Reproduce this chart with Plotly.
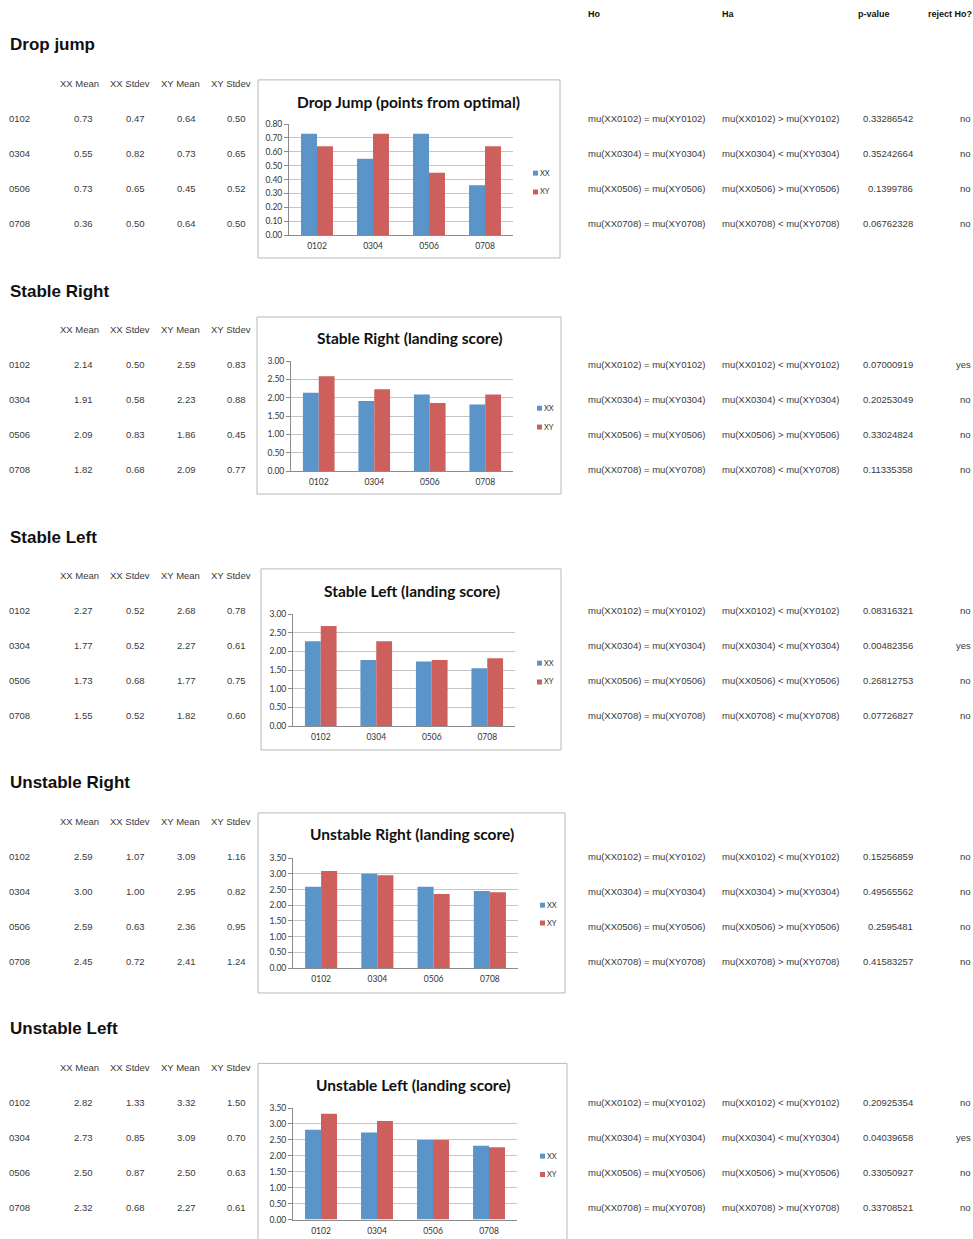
import plotly.graph_objects as go

# ---------------- data ----------------
categories = ["0102", "0304", "0506", "0708"]

section_names = ["Drop jump", "Stable Right", "Stable Left", "Unstable Right", "Unstable Left"]
chart_titles = [
    "Drop Jump (points from optimal)",
    "Stable Right (landing score)",
    "Stable Left (landing score)",
    "Unstable Right (landing score)",
    "Unstable Left (landing score)",
]

xx_mean = [
    [0.73, 0.55, 0.73, 0.36],
    [2.14, 1.91, 2.09, 1.82],
    [2.27, 1.77, 1.73, 1.55],
    [2.59, 3.00, 2.59, 2.45],
    [2.82, 2.73, 2.50, 2.32],
]
xx_stdev = [
    [0.47, 0.82, 0.65, 0.50],
    [0.50, 0.58, 0.83, 0.68],
    [0.52, 0.52, 0.68, 0.52],
    [1.07, 1.00, 0.63, 0.72],
    [1.33, 0.85, 0.87, 0.68],
]
xy_mean = [
    [0.64, 0.73, 0.45, 0.64],
    [2.59, 2.23, 1.86, 2.09],
    [2.68, 2.27, 1.77, 1.82],
    [3.09, 2.95, 2.36, 2.41],
    [3.32, 3.09, 2.50, 2.27],
]
xy_stdev = [
    [0.50, 0.65, 0.52, 0.50],
    [0.83, 0.88, 0.45, 0.77],
    [0.78, 0.61, 0.75, 0.60],
    [1.16, 0.82, 0.95, 1.24],
    [1.50, 0.70, 0.63, 0.61],
]

# direction of the alternative hypothesis for each comparison
ha_sign = [
    [">", "<", ">", "<"],
    ["<", "<", ">", "<"],
    ["<", "<", "<", "<"],
    ["<", ">", ">", ">"],
    ["<", "<", ">", ">"],
]
p_values = [
    ["0.33286542", "0.35242664", "0.1399786", "0.06762328"],
    ["0.07000919", "0.20253049", "0.33024824", "0.11335358"],
    ["0.08316321", "0.00482356", "0.26812753", "0.07726827"],
    ["0.15256859", "0.49565562", "0.2595481", "0.41583257"],
    ["0.20925354", "0.04039658", "0.33050927", "0.33708521"],
]
reject_ho = [
    ["no", "no", "no", "no"],
    ["yes", "no", "no", "no"],
    ["no", "yes", "no", "no"],
    ["no", "no", "no", "no"],
    ["no", "yes", "no", "no"],
]
y_max = [0.8, 3.0, 3.0, 3.5, 3.5]
y_step = [0.1, 0.5, 0.5, 0.5, 0.5]

table_headers = ["XX Mean", "XX Stdev", "XY Mean", "XY Stdev"]
test_headers = ["Ho", "Ha", "p-value", "reject Ho?"]

# ---------------- page geometry (pixels) ----------------
W, H = 973, 1239
XX_COLOR = "#5B94C8"
XY_COLOR = "#CD5F5C"
TXT = "#3a3a3a"

# chart frame, plot area, title centre, legend anchor
chart_geo = [
    dict(box=(258, 75.5, 560, 255), plot=(289, 120, 513, 232), title=(408, 97.5), leg=(533, 169.5, 188.5)),
    dict(box=(257, 314.5, 561, 493), plot=(291, 359, 513, 470), title=(410, 335.5), leg=(537, 406.5, 425.5)),
    dict(box=(261, 568.5, 561, 751), plot=(293, 614, 515, 727), title=(412, 591), leg=(537, 663.5, 682.5)),
    dict(box=(258, 814.5, 565, 996), plot=(293, 860, 518, 971), title=(412, 836), leg=(540, 907.5, 925.5)),
    dict(box=(258, 1067, 567, 1260), plot=(293, 1112, 517, 1224.5), title=(413, 1089), leg=(540, 1160.5, 1179)),
]
test_header_y = 9
section_title_y = [40, 288.5, 536.5, 783.5, 1031.5]
header_y = [79.5, 327.5, 575.5, 823, 1071]
ROW_STEP = 35.3


def px(x):
    return x / W


def py(y):
    return 1 - y / H


fig = go.Figure()
annotations = []
shapes = []


def text(x, y, s, size=10, anchor="left", bold=False, color=TXT, family="Liberation Sans, Arial"):
    annotations.append(dict(
        x=px(x), y=py(y), xref="paper", yref="paper", text=s, showarrow=False,
        xanchor=anchor, yanchor="middle", borderpad=0, borderwidth=0,
        font=dict(family=family, size=size, color=color, weight=700 if bold else 400),
    ))


# top header of the hypothesis-test columns
text(588, test_header_y, test_headers[0], size=9, bold=True, color="#111")
text(722, test_header_y, test_headers[1], size=9, bold=True, color="#111")
text(858, test_header_y, test_headers[2], size=9, bold=True, color="#111")
text(972, test_header_y, test_headers[3], size=9, bold=True, color="#111", anchor="right")

header_cx = [79, 130, 180, 231]
value_rx = [93, 145, 196, 246]

for s in range(5):
    g = chart_geo[s]
    text(10, section_title_y[s], section_names[s], size=17, bold=True, color="#111")
    for c, h in enumerate(table_headers):
        text(header_cx[c], header_y[s], h, size=9.5, anchor="center")
    cols = [xx_mean[s], xx_stdev[s], xy_mean[s], xy_stdev[s]]
    for r, cat in enumerate(categories):
        ry = header_y[s] + ROW_STEP * (r + 1)
        text(9, ry, cat, size=9.5)
        for c in range(4):
            text(value_rx[c], ry, f"{cols[c][r]:.2f}", size=9.5, anchor="right")
        text(588, ry, f"mu(XX{cat}) = mu(XY{cat})", size=9.5)
        text(722, ry, f"mu(XX{cat}) {ha_sign[s][r]} mu(XY{cat})", size=9.5)
        text(913, ry, p_values[s][r], size=9.5, anchor="right")
        text(971, ry, reject_ho[s][r], size=9.5, anchor="right")

    # chart frame
    bx0, by0, bx1, by1 = g["box"]
    shapes.append(dict(type="rect", xref="paper", yref="paper",
                       x0=px(bx0), x1=px(bx1), y0=py(by1), y1=py(by0),
                       line=dict(color="#b8b8b8", width=1), fillcolor="rgba(0,0,0,0)", layer="below"))
    # chart title
    tx, ty = g["title"]
    text(tx, ty, chart_titles[s], size=15.5, anchor="center", bold=True, color="#111", family="Lato, Carlito, Calibri")

    # legend
    lx, ly1, ly2 = g["leg"]
    for name, col, ly in (("XX", XX_COLOR, ly1), ("XY", XY_COLOR, ly2)):
        shapes.append(dict(type="rect", xref="paper", yref="paper",
                           x0=px(lx), x1=px(lx + 5), y0=py(ly + 2.5), y1=py(ly - 2.5),
                           line=dict(width=0), fillcolor=col))
        text(lx + 7, ly, name, size=7.5, family="Lato, Carlito, Calibri", color="#333")

    # bars
    n = s + 1
    xa = "x" if n == 1 else f"x{n}"
    ya = "y" if n == 1 else f"y{n}"
    fig.add_trace(go.Bar(x=categories, y=xx_mean[s], name="XX", marker=dict(color=XX_COLOR, line=dict(width=0)),
                         xaxis=xa, yaxis=ya, showlegend=False, offsetgroup="a"))
    fig.add_trace(go.Bar(x=categories, y=xy_mean[s], name="XY", marker=dict(color=XY_COLOR, line=dict(width=0)),
                         xaxis=xa, yaxis=ya, showlegend=False, offsetgroup="b"))

    x0, y0, x1, y1 = g["plot"]
    xkey = "xaxis" if n == 1 else f"xaxis{n}"
    ykey = "yaxis" if n == 1 else f"yaxis{n}"
    fig.layout[xkey] = dict(
        domain=[px(x0), px(x1)], anchor=ya, type="category",
        showline=True, linecolor="#8c8c8c", linewidth=1,
        ticks="", ticklabelstandoff=3,
        tickfont=dict(family="Lato, Carlito, Calibri", size=8.5, color="#333"),
        showgrid=False, fixedrange=True,
    )
    fig.layout[ykey] = dict(
        domain=[py(y1), py(y0)], anchor=xa,
        range=[0, y_max[s]], dtick=y_step[s], tick0=0, tickformat=".2f",
        showline=True, linecolor="#8c8c8c", linewidth=1,
        ticks="outside", ticklen=4, tickcolor="#8c8c8c",
        showgrid=True, gridcolor="#c4c4c4", gridwidth=1, zeroline=False,
        tickfont=dict(family="Lato, Carlito, Calibri", size=8.5, color="#333"),
        fixedrange=True,
    )

fig.update_layout(
    width=W, height=H,
    margin=dict(l=0, r=0, t=0, b=0),
    paper_bgcolor="white", plot_bgcolor="white",
    barmode="group", bargap=0.43, bargroupgap=0,
    annotations=annotations, shapes=shapes,
    showlegend=False,
)

fig.write_html("out.html", config={"displayModeBar": False})
